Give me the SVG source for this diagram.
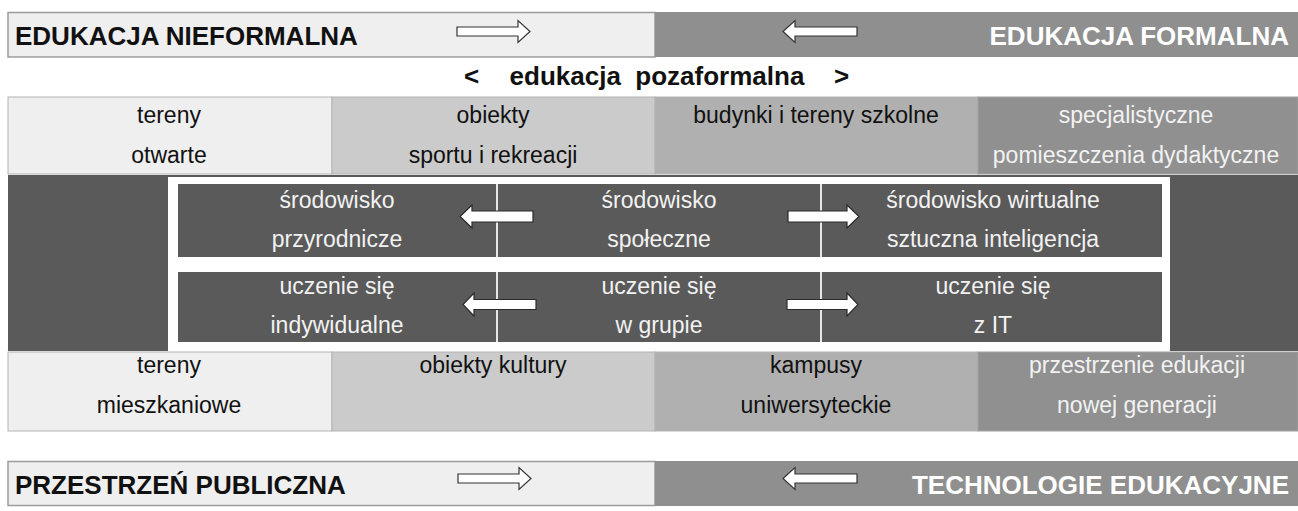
<svg xmlns="http://www.w3.org/2000/svg" width="1298" height="511" viewBox="0 0 1298 511">
<style>
.t{font-family:"Liberation Sans",Arial,sans-serif;font-size:23px;text-anchor:middle}
.h{font-family:"Liberation Sans",Arial,sans-serif;font-size:26px;font-weight:bold}
.dk{fill:#111111}
.lt{fill:#f2f2f2}
.c1{fill:#efefef;stroke:#b4b4b4;stroke-width:1}
.c2{fill:#cbcbcb;stroke:#b4b4b4;stroke-width:1}
.c3{fill:#b0b0b0;stroke:#b4b4b4;stroke-width:1}
.c4{fill:#909090;stroke:#a0a0a0;stroke-width:1}
.bx{fill:#5a5a5a}
.dv{stroke:#e6e6e6;stroke-width:2}
.ao{fill:#ffffff;stroke:#333333;stroke-width:1.2}
.as{fill:#ffffff;stroke:#2a2a2a;stroke-width:1.2}
</style>
<rect width="1298" height="511" fill="#ffffff"/>

<g id="top-left">
<rect x="8" y="12.5" width="647" height="44.5" fill="#efefef" stroke="#9c9c9c" stroke-width="1.5"/>
<text class="h dk" x="15" y="45">EDUKACJA NIEFORMALNA</text>
</g>
<g id="top-right">
<rect x="655" y="12" width="643" height="45" fill="#8f8f8f"/>
<text class="h" fill="#ffffff" x="1289" y="45" text-anchor="end">EDUKACJA FORMALNA</text>
</g>

<g id="subtitle">
<text class="h dk" x="464" y="85" font-size="25">&lt;</text>
<text class="h dk" x="657" y="85" font-size="25" text-anchor="middle" xml:space="preserve">edukacja  pozaformalna</text>
<text class="h dk" x="834" y="85" font-size="25">&gt;</text>
</g>

<g id="row1">
<g id="tereny-otwarte"><rect class="c1" x="8" y="97" width="324" height="77"/><text class="t dk" x="169" y="123">tereny</text><text class="t dk" x="169" y="163">otwarte</text></g>
<g id="obiekty-sportu"><rect class="c2" x="332" y="97" width="323" height="77"/><text class="t dk" x="493" y="123">obiekty</text><text class="t dk" x="493" y="163">sportu i rekreacji</text></g>
<g id="budynki-szkolne"><rect class="c3" x="655" y="97" width="323" height="77"/><text class="t dk" x="816" y="123">budynki i tereny szkolne</text></g>
<g id="pomieszczenia"><rect class="c4" x="978" y="97" width="320" height="77"/><text class="t lt" x="1136" y="123">specjalistyczne</text><text class="t lt" x="1136" y="163">pomieszczenia dydaktyczne</text></g>
</g>

<g id="middle-band">
<rect x="8" y="175" width="1290" height="176" fill="#5a5a5a"/>
<rect x="168" y="177" width="1002" height="174" fill="#ffffff"/>
</g>

<g id="box-srodowisko">
<rect class="bx" x="178" y="184" width="984" height="73"/>
<line class="dv" x1="497" y1="184" x2="497" y2="257"/>
<line class="dv" x1="821" y1="184" x2="821" y2="257"/>
<g id="srodowisko-przyrodnicze"><text class="t lt" x="337" y="208">środowisko</text><text class="t lt" x="337" y="247">przyrodnicze</text></g>
<g id="srodowisko-spoleczne"><text class="t lt" x="659" y="208">środowisko</text><text class="t lt" x="659" y="247">społeczne</text></g>
<g id="srodowisko-wirtualne"><text class="t lt" x="993" y="208">środowisko wirtualne</text><text class="t lt" x="993" y="247">sztuczna inteligencja</text></g>
</g>

<g id="box-uczenie">
<rect class="bx" x="178" y="272" width="984" height="70"/>
<line class="dv" x1="497" y1="272" x2="497" y2="342"/>
<line class="dv" x1="821" y1="272" x2="821" y2="342"/>
<g id="uczenie-indywidualne"><text class="t lt" x="337" y="294">uczenie się</text><text class="t lt" x="337" y="333">indywidualne</text></g>
<g id="uczenie-grupie"><text class="t lt" x="659" y="294">uczenie się</text><text class="t lt" x="659" y="333">w grupie</text></g>
<g id="uczenie-it"><text class="t lt" x="993" y="294">uczenie się</text><text class="t lt" x="993" y="333">z IT</text></g>
</g>

<g id="row2">
<g id="tereny-mieszkaniowe"><rect class="c1" x="8" y="352" width="324" height="79"/><text class="t dk" x="169" y="373">tereny</text><text class="t dk" x="169" y="413">mieszkaniowe</text></g>
<g id="obiekty-kultury"><rect class="c2" x="332" y="352" width="323" height="79"/><text class="t dk" x="493" y="373">obiekty kultury</text></g>
<g id="kampusy"><rect class="c3" x="655" y="352" width="323" height="79"/><text class="t dk" x="816" y="373">kampusy</text><text class="t dk" x="816" y="413">uniwersyteckie</text></g>
<g id="przestrzenie"><rect class="c4" x="978" y="352" width="320" height="79"/><text class="t lt" x="1137" y="373">przestrzenie edukacji</text><text class="t lt" x="1137" y="413">nowej generacji</text></g>
</g>

<g id="bottom-left">
<rect x="8" y="461.5" width="647" height="44" fill="#efefef" stroke="#9c9c9c" stroke-width="1.5"/>
<text class="h dk" x="15" y="494">PRZESTRZEŃ PUBLICZNA</text>
</g>
<g id="bottom-right">
<rect x="655" y="461" width="643" height="45" fill="#8f8f8f"/>
<text class="h" fill="#ffffff" x="1289" y="494" text-anchor="end">TECHNOLOGIE EDUKACYJNE</text>
</g>

<g id="connectors">
<polygon class="ao" points="457,27 518,27 518,20.5 530,31.5 518,42.5 518,36 457,36"/>
<polygon class="ao" points="857,27 795,27 795,20.5 783,31.5 795,42.5 795,36 857,36"/>
<polygon class="ao" points="458,474 519,474 519,467.5 531,478.5 519,489.5 519,483 458,483"/>
<polygon class="ao" points="857,474 795,474 795,467.5 783,478.5 795,489.5 795,483 857,483"/>
<polygon class="as" points="533,211 472,211 472,205 460,216.5 472,228 472,222 533,222"/>
<polygon class="as" points="788,211 847,211 847,205 859,216.5 847,228 847,222 788,222"/>
<polygon class="as" points="536,299.5 474,299.5 474,293 463,304.5 474,316 474,309.5 536,309.5"/>
<polygon class="as" points="787,299.5 847,299.5 847,293 858,304.5 847,316 847,309.5 787,309.5"/>
</g>
</svg>
